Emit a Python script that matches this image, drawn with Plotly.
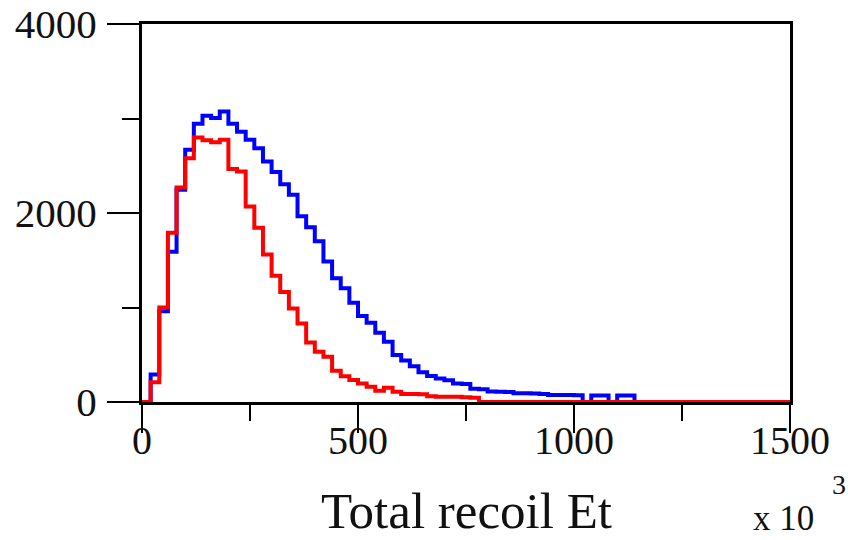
import plotly.graph_objects as go

# Bin edges: 75 bins of width 20 (x10^3) from 0 to 1500
bin_width = 20
n_bins = 75
bin_edges = [i * bin_width for i in range(n_bins + 1)]

blue_counts = [
    0, 290, 960, 1590, 2245, 2670, 2945, 3030, 3005, 3075,
    2945, 2860, 2775, 2685, 2545, 2435, 2305, 2192, 1965, 1850,
    1700, 1487, 1309, 1203, 1050, 910, 838, 733, 638, 497,
    440, 378, 315, 275, 250, 230, 195, 190, 140, 134,
    110, 109, 105, 92, 92, 90, 85, 75, 75, 74,
    72, 0, 70, 70, 0, 70, 70, 0, 0, 0,
    0, 0, 0, 0, 0, 0, 0, 0, 0, 0,
    0, 0, 0, 0, 0,
]

red_counts = [
    0, 210, 1000, 1790, 2270, 2580, 2800, 2770, 2750, 2775,
    2465, 2440, 2070, 1845, 1560, 1335, 1165, 990, 830, 630,
    533, 480, 330, 272, 233, 195, 162, 120, 150, 108,
    85, 85, 82, 60, 55, 55, 55, 50, 45, 0,
    0, 0, 0, 0, 0, 0, 0, 0, 0, 0,
    0, 0, 0, 0, 0, 0, 0, 0, 0, 0,
    0, 0, 0, 0, 0, 0, 0, 0, 0, 0,
    0, 0, 0, 0, 0,
]

x_tick_vals = [0, 500, 1000, 1500]
x_tick_text = ["0", "500", "1000", "1500"]
x_minor_vals = [250, 750, 1250]
y_tick_vals = [0, 2000, 4000]
y_tick_text = ["0", "2000", "4000"]
y_minor_vals = [1000, 3000]

x_title = "Total recoil Et"
x_unit = "x 10"
x_unit_exp = "3"


def step_xy(counts):
    xs = list(bin_edges)
    ys = list(counts) + [counts[-1]]
    return xs, ys


fig = go.Figure()
bx, by = step_xy(blue_counts)
rx, ry = step_xy(red_counts)
fig.add_trace(go.Scatter(x=bx, y=by, mode="lines", line=dict(color="#0000ff", width=4, shape="hv"),
                         showlegend=False, hoverinfo="skip"))
fig.add_trace(go.Scatter(x=rx, y=ry, mode="lines", line=dict(color="#ff0000", width=4, shape="hv"),
                         showlegend=False, hoverinfo="skip"))

serif = "Liberation Serif, Times New Roman, serif"
txt = "#111111"

annotations = []
for v, t in zip(x_tick_vals, x_tick_text):
    annotations.append(dict(text=t, xref="x", yref="paper", x=v, y=-0.102,
                            xanchor="center", yanchor="middle", showarrow=False,
                            font=dict(family=serif, size=40, color=txt)))
annotations += [
    dict(text=x_title, xref="paper", yref="paper", x=0.5, y=(402 - 510.5) / 378,
         xanchor="center", yanchor="middle", showarrow=False,
         font=dict(family=serif, size=51, color=txt)),
    dict(text=x_unit, xref="paper", yref="paper", x=(783 - 142) / 648, y=(402 - 518) / 378,
         xanchor="center", yanchor="middle", showarrow=False,
         font=dict(family=serif, size=35, color=txt)),
    dict(text=x_unit_exp, xref="paper", yref="paper", x=(839 - 142) / 648, y=(402 - 484) / 378,
         xanchor="center", yanchor="middle", showarrow=False,
         font=dict(family=serif, size=28, color=txt)),
]

fig.update_layout(
    width=848, height=540,
    margin=dict(l=142, r=58, t=24, b=138, autoexpand=False),
    paper_bgcolor="white", plot_bgcolor="white",
    font=dict(family=serif, color=txt),
    xaxis=dict(
        range=[0, 1500], tickvals=x_tick_vals, showticklabels=False,
        ticks="outside", ticklen=28, tickwidth=2, tickcolor="black",
        showline=True, linewidth=3, linecolor="black", mirror=True,
        showgrid=False, zeroline=False, layer="below traces", automargin=False,
        minor=dict(tickvals=x_minor_vals, ticks="outside", ticklen=16, tickwidth=2, tickcolor="black", showgrid=False),
    ),
    yaxis=dict(
        range=[0, 4000], tickvals=y_tick_vals, ticktext=y_tick_text,
        ticks="outside", ticklen=32, tickwidth=2, tickcolor="black",
        showline=True, linewidth=3, linecolor="black", mirror=True,
        showgrid=False, zeroline=False, layer="below traces", automargin=False,
        tickfont=dict(family=serif, size=41, color=txt),
        minor=dict(tickvals=y_minor_vals, ticks="outside", ticklen=17, tickwidth=2, tickcolor="black", showgrid=False),
        ticklabelstandoff=2,
    ),
    annotations=annotations,
)

fig.write_html("out.html")
